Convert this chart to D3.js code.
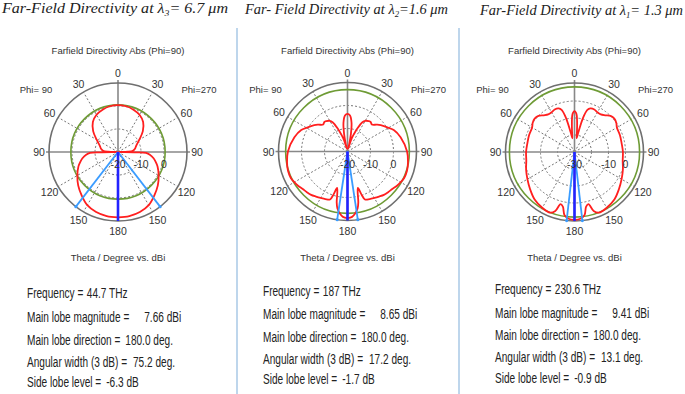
<!DOCTYPE html>
<html>
<head>
<meta charset="utf-8">
<script src="https://cdn.jsdelivr.net/npm/d3@7"></script>
<style>
  body { margin: 0; background: #fff; }
  svg text { font-family: "Liberation Sans", Arial, sans-serif; fill: #333; }
  .head { font-family: "Liberation Serif", "Times New Roman", serif; font-style: italic; fill: #222; }
  .info { font-family: "Liberation Sans", Arial, sans-serif; fill: #222; }
</style>
</head>
<body>
<div id="chart"></div>
<script>
// --- dados ---
// cabeçalhos (texto antes do índice, índice, texto depois)
const headPre = ["Far-Field Directivity at λ", "Far- Field Directivity at λ", "Far-Field Directivity at λ"];
const headSub = ["3", "2", "1"];
const headPost = ["= 6.7 μm", "=1.6 μm", "= 1.3 μm"];

const plotTitle = "Farfield Directivity Abs (Phi=90)";
const axisTitle = "Theta / Degree vs. dBi";
const phiLeft = "Phi= 90";
const phiRight = "Phi=270";

// escala radial (dB) de cada gráfico polar
const radialDomains = [[-20, 10], [-20, 10], [-30, 10.6]];
const gridRings = [[-10, 0], [-10, 0], [-20, -10, 0]];
const radialLabels = [[-20, -10, 0], [-20, -10, 0], [-30, -10, 0]];
const thetaTicks = [0, 30, 60, 90, 120, 150, 180];

// diretividade (dBi) vs theta, metade Phi=90 (a metade Phi=270 é simétrica)
const theta1 = [0, 10, 20, 30, 40, 50, 60, 70, 80, 85, 88, 90, 91, 92, 95, 100, 105, 110, 120, 130, 140, 150, 160, 170, 180];
const dir1 = [0.4, 0.2, -0.4, -1.3, -3.0, -5.9, -9.3, -11.5, -12.6, -13.5, -15.7, -20, -12.2, -7.8, -6.1, -4.3, -3.0, -1.7, 0.4, 2.6, 4.6, 6.7, 7.8, 8.3, 8.4];

const theta2 = [0, 4, 8, 11, 13, 14, 17, 20, 23, 27, 30, 35, 38, 42, 48, 55, 58, 65, 75, 90, 100, 108, 115, 120, 125, 130, 135, 140, 145, 150, 155, 160, 162, 164, 166, 168, 170, 173, 176, 180];
const dir2 = [-3.6, -4.3, -7.4, -12.2, -16.5, -18.7, -14.8, -12.2, -9.1, -5.7, -4.6, -3.9, -3.7, -4.2, -2.6, -0.7, 0.0, 2.2, 3.9, 5.9, 6.7, 7.2, 7.2, 6.7, 6.1, 5.4, 5.0, 4.6, 3.9, 3.3, 2.8, 2.2, -0.4, -3.5, -1.7, 2.6, 5.2, 7.2, 8.5, 9.0];

const theta3 = [0, 3, 5, 7, 9, 11, 14, 17, 20, 25, 30, 35, 40, 45, 50, 55, 60, 70, 80, 90, 100, 110, 120, 130, 140, 150, 158, 162, 165, 168, 171, 175, 180];
const dir3 = [-5.9, -7.7, -12.4, -18.2, -21.8, -18.2, -9.4, -4.1, -2.7, -2.4, -3.0, -3.0, -1.8, 0.0, 0.6, 0.0, -1.2, -1.5, -1.8, -1.5, -1.2, 0.3, 2.0, 4.1, 6.5, 7.9, 8.5, 6.5, 1.8, 2.9, 7.6, 9.4, 10.0];

// círculo verde (nível do lóbulo lateral) e feixe de 3 dB
const sideLobeRing = [0.5, 6.9, 8.3];
const mainLobeDir = [180, 180, 180];
const beamWidth = [75.2, 17.2, 13.1];

// textos de resultados
const infoLabels = ["Frequency =", "Main lobe magnitude =", "Main lobe direction =", "Angular width (3 dB) =", "Side lobe level ="];
const infoValues = [
    ["44.7 THz", "7.66 dBi", "180.0 deg.", "75.2 deg.", "-6.3 dB"],
    ["187 THz", "8.65 dBi", "180.0 deg.", "17.2 deg.", "-1.7 dB"],
    ["230.6 THz", "9.41 dBi", "180.0 deg.", "13.1 deg.", "-0.9 dB"]
];

document.addEventListener("DOMContentLoaded", () => {
    const width = 685, height = 394;
    const R = 69;

    // layout de cada painel
    const centers = [[118, 152], [347.5, 151.5], [574.5, 152]];
    const headX = [2, 245, 480], headY = [13, 14, 15], headW = [226, 203, 203];
    const infoX = [27, 263, 495];
    const infoGap = [3.5, 15, 5, 6, 5]; // espaço entre rótulo e valor
    const infoY = [[298, 322, 345, 367, 387], [296, 319, 342, 364, 384], [294, 318, 340, 362, 383]];
    const narrow = 0.72; // fonte condensada

    const thetas = [theta1, theta2, theta3];
    const dirs = [dir1, dir2, dir3];

    const svg = d3.select("#chart")
        .append("svg")
        .attr("width", width)
        .attr("height", height);

    // separadores azuis
    [237, 459].forEach(x => {
        svg.append("line")
            .attr("x1", x).attr("x2", x)
            .attr("y1", 28).attr("y2", height)
            .attr("stroke", "#a9c8e6")
            .attr("stroke-width", 1.5);
    });

    const rad = d => d * Math.PI / 180;
    const pt = (a, rr) => [rr * Math.sin(rad(a)), -rr * Math.cos(rad(a))];

    // texto condensado
    const narrowText = (x, y, str) => {
        const t = svg.append("text")
            .attr("class", "info")
            .attr("x", x)
            .attr("y", y)
            .style("font-size", "14px")
            .text(str);
        const len = t.node().getComputedTextLength() * narrow;
        t.attr("textLength", len).attr("lengthAdjust", "spacingAndGlyphs");
        return len;
    };

    centers.forEach(([cx, cy], i) => {
        // cabeçalho
        const h = svg.append("text")
            .attr("class", "head")
            .attr("x", headX[i])
            .attr("y", headY[i])
            .attr("textLength", headW[i])
            .attr("lengthAdjust", "spacingAndGlyphs")
            .style("font-size", "15px");
        h.append("tspan").text(headPre[i]);
        h.append("tspan").attr("dy", 3).style("font-size", "9px").text(headSub[i]);
        h.append("tspan").attr("dy", -3).text(headPost[i]);

        svg.append("text")
            .attr("x", cx).attr("y", 50)
            .attr("text-anchor", "middle")
            .attr("dominant-baseline", "central")
            .style("font-size", "9.5px")
            .text(plotTitle);

        svg.append("text")
            .attr("x", cx).attr("y", 257)
            .attr("text-anchor", "middle")
            .attr("dominant-baseline", "central")
            .style("font-size", "9.5px")
            .text(axisTitle);

        svg.append("text")
            .attr("x", cx - 82).attr("y", 89)
            .attr("text-anchor", "middle")
            .attr("dominant-baseline", "central")
            .style("font-size", "9.5px")
            .text(phiLeft);

        svg.append("text")
            .attr("x", cx + 81).attr("y", 89)
            .attr("text-anchor", "middle")
            .attr("dominant-baseline", "central")
            .style("font-size", "9.5px")
            .text(phiRight);

        const g = svg.append("g").attr("transform", `translate(${cx},${cy})`);

        const r = d3.scaleLinear()
            .domain(radialDomains[i])
            .range([0, R])
            .clamp(true);

        // raios tracejados
        [30, 60, 120, 150, -30, -60, -120, -150].forEach(a => {
            const [x, y] = pt(a, R);
            g.append("line")
                .attr("x1", 0).attr("y1", 0)
                .attr("x2", x).attr("y2", y)
                .attr("stroke", "#777")
                .attr("stroke-width", 1)
                .attr("stroke-dasharray", "2,2");
        });

        // anéis tracejados
        g.selectAll("circle.ring")
            .data(gridRings[i])
            .enter()
            .append("circle")
            .attr("class", "ring")
            .attr("r", d => r(d))
            .attr("fill", "none")
            .attr("stroke", "#777")
            .attr("stroke-width", 1)
            .attr("stroke-dasharray", "2,2");

        // eixos sólidos
        g.append("line").attr("x1", -R - 3).attr("x2", R + 3).attr("y1", 0).attr("y2", 0)
            .attr("stroke", "#888").attr("stroke-width", 1.6);
        g.append("line").attr("x1", 0).attr("x2", 0).attr("y1", -R - 3).attr("y2", R)
            .attr("stroke", "#888").attr("stroke-width", 1.6);

        // círculo externo
        g.append("circle")
            .attr("r", R)
            .attr("fill", "none")
            .attr("stroke", "#6f6f6f")
            .attr("stroke-width", 1.6);

        // nível do lóbulo lateral
        g.append("circle")
            .attr("r", r(sideLobeRing[i]))
            .attr("fill", "none")
            .attr("stroke", "#6e9b35")
            .attr("stroke-width", 1.6);

        // curva de diretividade (Phi=90 à esquerda, Phi=270 à direita)
        const th = thetas[i], dv = dirs[i];
        const pts = [];
        for (let k = th.length - 1; k >= 0; k--) pts.push([-rad(th[k]), r(dv[k])]);
        for (let k = 1; k < th.length; k++) pts.push([rad(th[k]), r(dv[k])]);

        const line = d3.lineRadial()
            .angle(d => d[0])
            .radius(d => d[1])
            .curve(d3.curveCatmullRom.alpha(0.5));

        g.append("path")
            .attr("d", line(pts))
            .attr("fill", "none")
            .attr("stroke", "#ff1f1f")
            .attr("stroke-width", 1.8);

        // feixe de 3 dB
        [mainLobeDir[i] - beamWidth[i] / 2, mainLobeDir[i] + beamWidth[i] / 2].forEach(a => {
            const [x, y] = pt(a, R);
            g.append("line")
                .attr("x1", 0).attr("y1", 0)
                .attr("x2", x).attr("y2", y)
                .attr("stroke", "#3a9cff")
                .attr("stroke-width", 1.8);
            g.append("circle")
                .attr("cx", x).attr("cy", y)
                .attr("r", 1.6)
                .attr("fill", "#3a9cff");
        });

        // direção do lóbulo principal
        const [mx, my] = pt(mainLobeDir[i], R);
        g.append("line")
            .attr("x1", 0).attr("y1", 0)
            .attr("x2", mx).attr("y2", my)
            .attr("stroke", "#2323ff")
            .attr("stroke-width", 2.6);

        // rótulos radiais
        g.selectAll("text.rlab")
            .data(radialLabels[i])
            .enter()
            .append("text")
            .attr("class", "rlab")
            .attr("x", d => r(d))
            .attr("y", 12)
            .attr("text-anchor", "middle")
            .attr("dominant-baseline", "central")
            .style("font-size", "10.5px")
            .text(d => d);

        // rótulos de theta
        thetaTicks.forEach(t => {
            const sides = (t === 0 || t === 180) ? [t] : [-t, t];
            sides.forEach(a => {
                const [x, y] = pt(a, 79);
                g.append("text")
                    .attr("x", x).attr("y", y)
                    .attr("text-anchor", "middle")
                    .attr("dominant-baseline", "central")
                    .style("font-size", "10.5px")
                    .text(t);
            });
        });

        // bloco de resultados
        infoLabels.forEach((lab, k) => {
            const w = narrowText(infoX[i], infoY[i][k], lab);
            narrowText(infoX[i] + w + infoGap[k], infoY[i][k], infoValues[i][k]);
        });
    });
});
</script>
</body>
</html>
